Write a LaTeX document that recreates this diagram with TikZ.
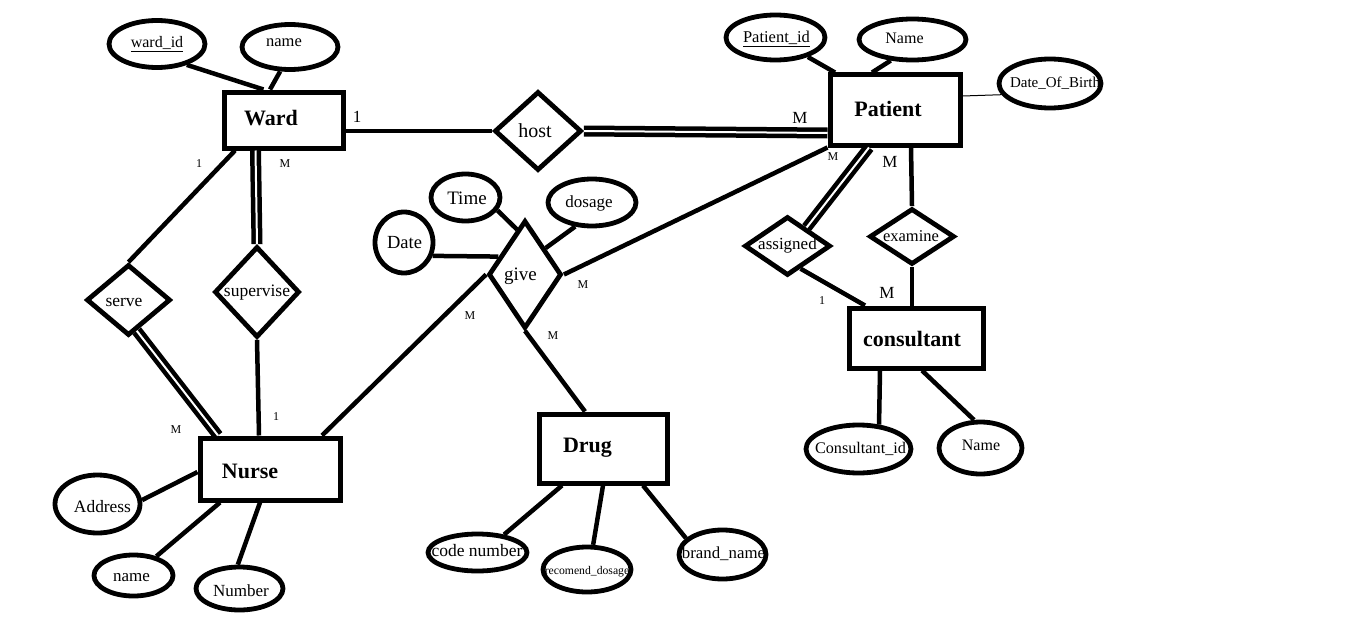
\documentclass[tikz,border=0pt]{standalone}
\usepackage{fontspec}
\setmainfont{Liberation Serif}
\usetikzlibrary{shapes.geometric}
\newcommand\txtsize[1]{\fontsize{#1}{#1}\selectfont}

\begin{document}
\begin{tikzpicture}[x=1pt,y=-1pt,
  every node/.style={inner sep=0pt},
  ent/.style={draw, line width=5pt, rectangle},
  attr/.style={draw, line width=4.8pt, ellipse},
  rel/.style={draw, line width=4.8pt, diamond},
  link/.style={line width=4.5pt},
  dbl/.style={line width=4.5pt, double=white, double distance=2pt},
  thinlink/.style={line width=1pt},
  etext/.style={font=\txtsize{22}\bfseries},
  atext/.style={font=\txtsize{#1}},
  card/.style={font=\txtsize{#1}},
]
\useasboundingbox (0,0) rectangle (1360,642);

% ---------- entities ----------
\node[ent, minimum width=119pt, minimum height=56pt] (ward) at (283.5,120) {};
\node[ent, minimum width=130pt, minimum height=70pt] (patient) at (895,110) {};
\node[ent, minimum width=140pt, minimum height=62pt] (nurse) at (270,469) {};
\node[ent, minimum width=128pt, minimum height=69pt] (drug) at (603,448.5) {};
\node[ent, minimum width=134pt, minimum height=60pt] (consultant) at (916,338) {};

\node[etext] (ward-t) at (271,118.5) {Ward};
\node[etext] (patient-t) at (888,109) {Patient};
\node[etext] (nurse-t) at (250,471.5) {Nurse};
\node[etext] (drug-t) at (587.5,448) {Drug};
\node[etext] (consultant-t) at (912,339) {consultant};

% ---------- attributes ----------
\node[attr, minimum width=96pt, minimum height=47pt] (wardid) at (157,44) {};
\node[attr, minimum width=96pt, minimum height=45pt] (wname) at (290,47) {};
\node[attr, minimum width=99pt, minimum height=45pt] (pid) at (775.5,37.5) {};
\node[attr, minimum width=107pt, minimum height=41pt] (pname) at (912.5,39.5) {};
\node[attr, minimum width=102pt, minimum height=49pt] (dob) at (1050,83.5) {};
\node[attr, minimum width=69pt, minimum height=47pt] (time) at (465.5,197.5) {};
\node[attr, minimum width=88pt, minimum height=47pt] (dosage) at (592,202.5) {};
\node[attr, minimum width=58pt, minimum height=61pt] (date) at (404,242.5) {};
\node[attr, minimum width=99pt, minimum height=37pt] (code) at (477.5,552.5) {};
\node[attr, minimum width=88pt, minimum height=45pt] (recdose) at (587,569.5) {};
\node[attr, minimum width=87pt, minimum height=49pt] (brand) at (722.5,554.5) {};
\node[attr, minimum width=85pt, minimum height=58pt] (address) at (97.5,504) {};
\node[attr, minimum width=79pt, minimum height=41pt] (nname) at (133.5,575.5) {};
\node[attr, minimum width=87pt, minimum height=43pt] (number) at (239.5,588.5) {};
\node[attr, minimum width=105pt, minimum height=48pt] (cid) at (858.5,449) {};
\node[attr, minimum width=83pt, minimum height=52pt] (cname) at (980.5,448) {};

\node[atext=16] (wardid-t) at (157,44) {\underline{ward\_id}};
\node[atext=16.5] (wname-t) at (284,43) {name};
\node[atext=16.5] (pid-t) at (776.5,39) {\underline{Patient\_id}};
\node[atext=16] (pname-t) at (904.5,38) {Name};
\node[atext=15] (dob-t) at (1055,83) {Date\_Of\_Birth};
\node[atext=19] (time-t) at (467,198) {Time};
\node[atext=17] (dosage-t) at (589,203) {dosage};
\node[atext=18.5] (date-t) at (404.5,242.5) {Date};
\node[atext=17.5] (code-t) at (477,550.5) {code number};
\node[atext=11.7] (recdose-t) at (587,572) {recomend\_dosage};
\node[atext=16.8] (brand-t) at (723.5,554) {brand\_name};
\node[atext=17.4] (address-t) at (102.5,506.5) {Address};
\node[atext=17] (nname-t) at (131.5,578) {name};
\node[atext=17] (number-t) at (241,591) {Number};
\node[atext=16.2] (cid-t) at (860.5,449) {Consultant\_id};
\node[atext=16] (cname-t) at (981,445.5) {Name};

% ---------- relationships ----------
\node[rel, minimum width=87pt, minimum height=79pt] (host) at (538,131) {};
\node[rel, minimum width=73pt, minimum height=108pt] (give) at (525,274.5) {};
\node[rel, minimum width=84pt, minimum height=71pt] (serve) at (128.5,300) {};
\node[rel, minimum width=85pt, minimum height=91pt] (supervise) at (257,292) {};
\node[rel, minimum width=86pt, minimum height=59pt] (assigned) at (787.5,246) {};
\node[rel, minimum width=85pt, minimum height=56pt] (examine) at (912,236.5) {};

\node[atext=20] (host-t) at (535,131) {host};
\node[atext=19] (give-t) at (520.5,276.5) {give};
\node[atext=17.5] (serve-t) at (124,302) {serve};
\node[atext=17.5] (supervise-t) at (257,293) {supervise};
\node[atext=17] (assigned-t) at (787.5,245) {assigned};
\node[atext=16.5] (examine-t) at (911,236) {examine};

% ---------- connectors ----------
\draw[link] (wardid.-35) -- ([xshift=-20pt]ward.north);
\draw[link] (wname.-112) -- ([xshift=-13.5pt]ward.north);
\draw[link] ([yshift=-11pt]ward.east) -- (host.west);
\draw[dbl] (host.east) -- ([yshift=-23pt]patient.west);
\draw[link] ([xshift=-48.5pt]ward.south) -- (serve.north);
\draw[dbl] ([xshift=-28pt]ward.south) -- (supervise.north);
\draw[link] (supervise.south) -- ([xshift=-11pt]nurse.north);
\draw[dbl] (serve.-75) -- ([xshift=-52pt]nurse.north);
\draw[link] ([xshift=52pt]nurse.north) -- (give.west);
\draw[link] (give.east) -- (patient.south west);
\draw[link] (give.south) -- ([xshift=-18pt]drug.north);
\draw[link] (date.-25) -- (give.146);
\draw[link] (time.-22) -- (give.100);
\draw[link] (dosage.-125) -- (give.52);
\draw[dbl] ([xshift=-26pt]patient.south) -- (assigned.44);
\draw[link] ([xshift=16pt]patient.south) -- (examine.north);
\draw[link] (examine.south) -- ([xshift=-4pt]consultant.north);
\draw[link] (assigned.-60) -- ([xshift=-51pt]consultant.north);
\draw[link] ([xshift=-36pt]consultant.south) -- (cid.50);
\draw[link] ([xshift=6pt]consultant.south) -- (cname.103);
\draw[link] (pid.-31) -- ([xshift=-60pt]patient.north);
\draw[link] (pname.-136) -- ([xshift=-23pt]patient.north);
\draw[thinlink] ([yshift=14pt]patient.east) -- (dob.193);
\draw[link] ([yshift=-3pt]nurse.west) -- (address.5);
\draw[link] ([xshift=-50pt]nurse.south) -- (nname.40);
\draw[link] ([xshift=-10pt]nurse.south) -- (number.94);
\draw[link] ([xshift=-41pt]drug.south) -- (code.34);
\draw[link] (drug.south) -- (recdose.76);
\draw[link] ([xshift=40pt]drug.south) -- (brand.156);

% ---------- cardinalities ----------
\node[card=17] (c1) at (357,117) {1};
\node[card=17] (c2) at (800,118) {M};
\node[card=12] (c3) at (199,164) {1};
\node[card=12] (c4) at (285,164) {M};
\node[card=12] (c5) at (833,157) {M};
\node[card=17] (c6) at (890,162) {M};
\node[card=12] (c7) at (583,285) {M};
\node[card=12] (c8) at (470,316) {M};
\node[card=12] (c9) at (553,336) {M};
\node[card=12] (c10) at (822,301) {1};
\node[card=17] (c11) at (887,293) {M};
\node[card=12] (c12) at (176,430) {M};
\node[card=12] (c13) at (276,417) {1};
\end{tikzpicture}
\end{document}
